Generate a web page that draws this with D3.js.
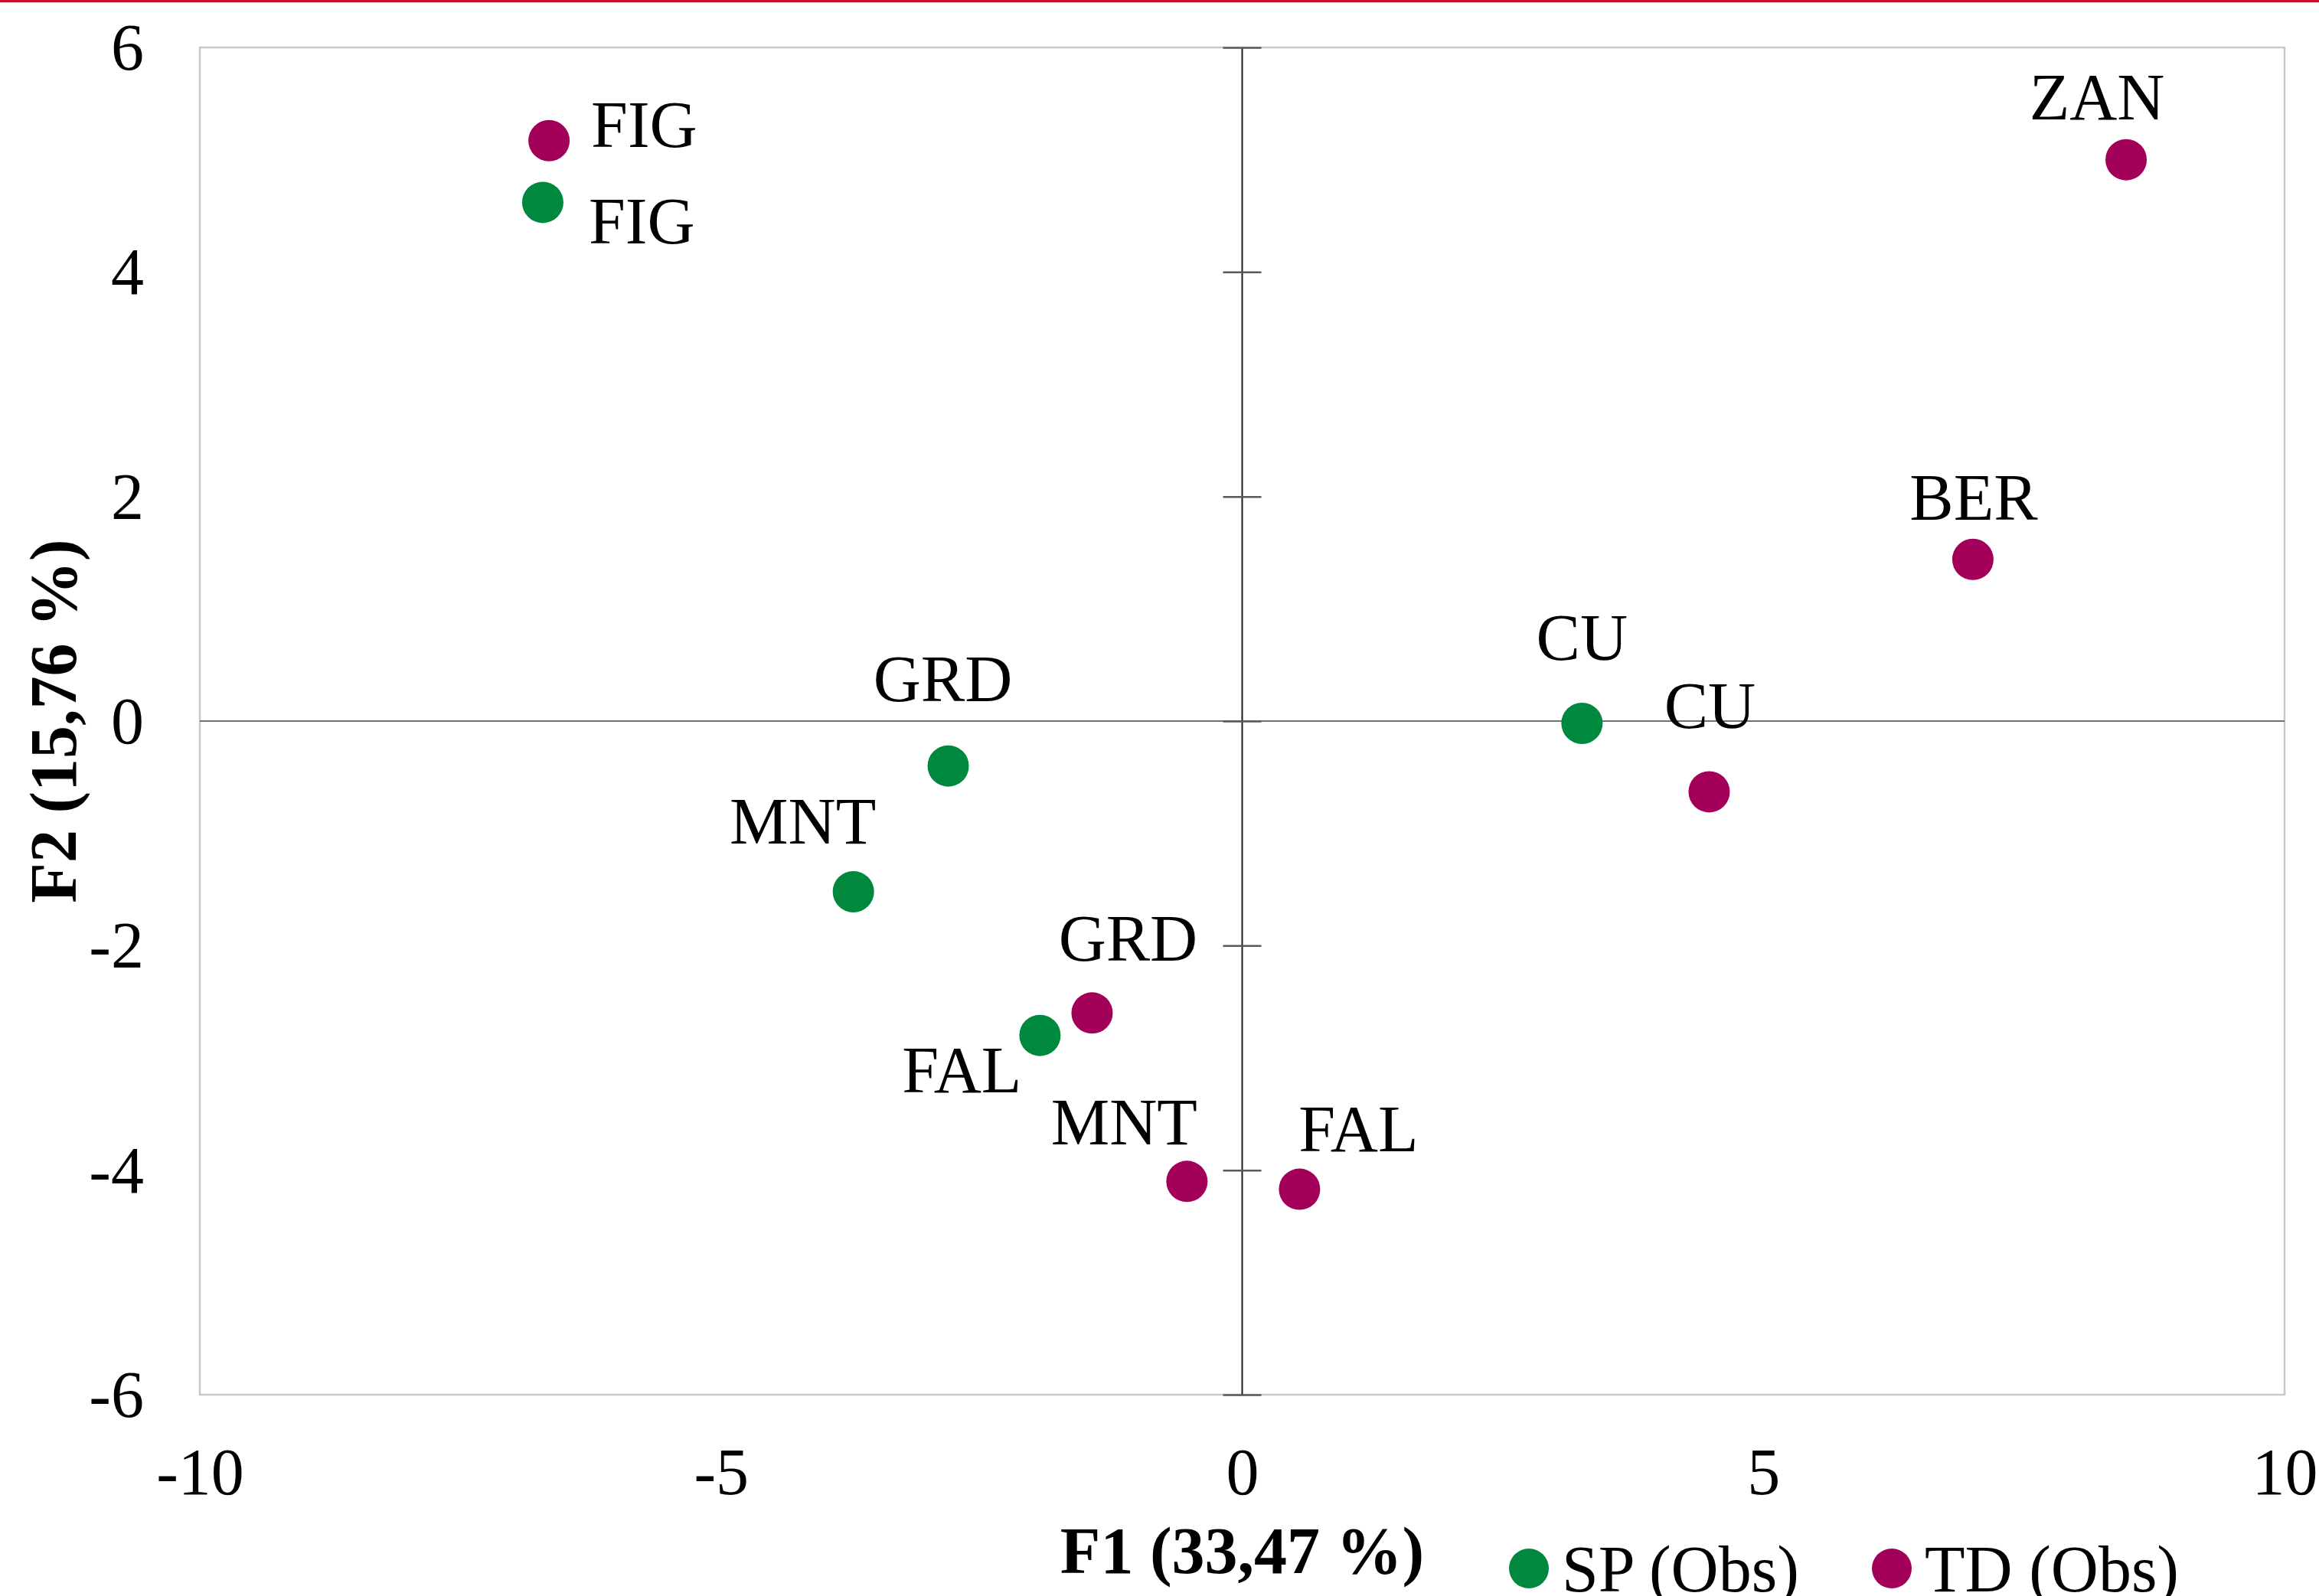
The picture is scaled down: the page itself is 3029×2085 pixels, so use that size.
<!DOCTYPE html>
<html>
<head>
<meta charset="utf-8">
<script src="https://cdn.jsdelivr.net/npm/d3@7"></script>
<style>
  html, body { margin: 0; padding: 0; background: #fff; }
  svg { display: block; }
  text { font-family: "Liberation Serif", "Times New Roman", serif; fill: #000; }
</style>
</head>
<body>
<svg id="chart" width="3029" height="2085"></svg>
<script>
// ---- data ----
const seriesNames = ["SP (Obs)", "TD (Obs)"];
const spLabels = ["FIG", "CU", "GRD", "MNT", "FAL"];
const spF1 = [-6.71, 3.26, -2.82, -3.73, -1.94];
const spF2 = [4.62, -0.02, -0.40, -1.52, -2.80];
const tdLabels = ["FIG", "ZAN", "BER", "CU", "GRD", "MNT", "FAL"];
const tdF1 = [-6.65, 8.48, 7.01, 4.48, -1.44, -0.53, 0.55];
const tdF2 = [5.17, 5.00, 1.44, -0.63, -2.60, -4.10, -4.17];
const xTicks = [-10, -5, 0, 5, 10];
const yTicks = [-6, -4, -2, 0, 2, 4, 6];
const xTitle = "F1 (33,47 %)";
const yTitle = "F2 (15,76 %)";

// ---- layout (label placement, pixels) ----
const spLabelPlace = [
  {anchor: "start", dx: 60, dy: 54},
  {anchor: "middle", dx: 0, dy: -83},
  {anchor: "middle", dx: -7, dy: -85},
  {anchor: "middle", dx: -66, dy: -63},
  {anchor: "end", dx: -24, dy: 74}
];
const tdLabelPlace = [
  {anchor: "start", dx: 55, dy: 8},
  {anchor: "middle", dx: -38, dy: -53},
  {anchor: "middle", dx: 1, dy: -52},
  {anchor: "middle", dx: 1, dy: -83},
  {anchor: "middle", dx: 47, dy: -68},
  {anchor: "middle", dx: -82, dy: -48},
  {anchor: "middle", dx: 77, dy: -50}
];
const colors = {"SP (Obs)": "#00883E", "TD (Obs)": "#A3005A"};

const W = 3029, H = 2085;
const plot = {left: 261, right: 2984, top: 62, bottom: 1822};
const FS = 86;
const R = 27;
const fmt = d => String(d);

const svg = d3.select("#chart");
svg.append("rect").attr("x", 0).attr("y", 0).attr("width", W).attr("height", H).attr("fill", "#fff");
// red rule at top
svg.append("rect").attr("x", 0).attr("y", 0).attr("width", W).attr("height", 3).attr("fill", "#C8102E");

const x = d3.scaleLinear().domain([-10, 10]).range([plot.left, plot.right]);
const y = d3.scaleLinear().domain([-6, 6]).range([plot.bottom, plot.top]);

// plot border
svg.append("rect")
  .attr("x", plot.left).attr("y", plot.top)
  .attr("width", plot.right - plot.left).attr("height", plot.bottom - plot.top)
  .attr("fill", "none").attr("stroke", "#C8C8C8").attr("stroke-width", 2.5);

// zero lines
svg.append("line")
  .attr("x1", plot.left).attr("x2", plot.right)
  .attr("y1", y(0)).attr("y2", y(0))
  .attr("stroke", "#707070").attr("stroke-width", 2);
svg.append("line")
  .attr("x1", x(0)).attr("x2", x(0))
  .attr("y1", plot.top).attr("y2", plot.bottom)
  .attr("stroke", "#1a1a1a").attr("stroke-width", 2);

// tick marks on vertical zero axis
const tickAxis = svg.append("g")
  .attr("transform", `translate(${x(0)},0)`)
  .call(d3.axisLeft(y).tickValues(yTicks).tickSize(25).tickFormat(""));
tickAxis.select(".domain").remove();
tickAxis.selectAll(".tick line")
  .attr("x1", -25).attr("x2", 25)
  .attr("stroke", "#595959").attr("stroke-width", 2.5);

// y tick labels (left)
const yAxis = svg.append("g")
  .attr("transform", `translate(${plot.left},0)`)
  .call(d3.axisLeft(y).tickValues(yTicks).tickSize(0).tickPadding(73).tickFormat(fmt));
yAxis.select(".domain").remove();
yAxis.selectAll("text")
  .attr("font-size", FS).attr("font-family", "Liberation Serif, Times New Roman, serif")
  .attr("fill", "#000").attr("dy", "0.33em");

// x tick labels (bottom)
const xAxis = svg.append("g")
  .attr("transform", `translate(0,${plot.bottom})`)
  .call(d3.axisBottom(x).tickValues(xTicks).tickSize(0).tickPadding(69).tickFormat(fmt));
xAxis.select(".domain").remove();
xAxis.selectAll("text")
  .attr("font-size", FS).attr("font-family", "Liberation Serif, Times New Roman, serif")
  .attr("fill", "#000");

// axis titles
svg.append("text")
  .attr("x", x(0)).attr("y", 2055)
  .attr("text-anchor", "middle")
  .attr("font-size", FS).attr("font-weight", "bold")
  .text(xTitle);
svg.append("text")
  .attr("transform", `translate(99,${y(0)}) rotate(-90)`)
  .attr("text-anchor", "middle")
  .attr("font-size", FS).attr("font-weight", "bold")
  .text(yTitle);

// points
function drawSeries(name, labels, f1, f2, place) {
  const data = labels.map((l, i) => ({label: l, x: f1[i], y: f2[i], p: place[i]}));
  const g = svg.append("g");
  g.selectAll("circle").data(data).enter().append("circle")
    .attr("cx", d => x(d.x)).attr("cy", d => y(d.y))
    .attr("r", R).attr("fill", colors[name]);
  g.selectAll("text").data(data).enter().append("text")
    .attr("x", d => x(d.x) + d.p.dx).attr("y", d => y(d.y) + d.p.dy)
    .attr("text-anchor", d => d.p.anchor)
    .attr("font-size", FS)
    .text(d => d.label);
}
drawSeries("SP (Obs)", spLabels, spF1, spF2, spLabelPlace);
drawSeries("TD (Obs)", tdLabels, tdF1, tdF2, tdLabelPlace);

// legend
const legendX = [1997, 2471];
const leg = svg.append("g");
seriesNames.forEach((s, i) => {
  leg.append("circle").attr("cx", legendX[i]).attr("cy", 2049).attr("r", 26).attr("fill", colors[s]);
  leg.append("text").attr("x", legendX[i] + 43).attr("y", 2079)
    .attr("font-size", FS).text(s);
});
</script>
</body>
</html>
